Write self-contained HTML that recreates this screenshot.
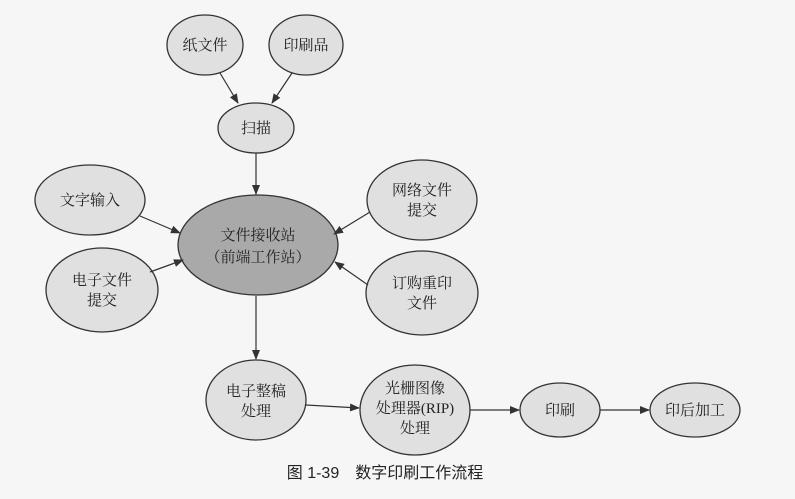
<!DOCTYPE html>
<html><head><meta charset="utf-8"><style>
html,body{margin:0;padding:0;background:#f7f6f6;}
svg text{font-family:"Liberation Serif","Noto Serif CJK SC",serif;font-size:15px;fill:#222;text-anchor:middle;}
</style></head><body>
<svg width="795" height="494" viewBox="0 0 795 494" xmlns="http://www.w3.org/2000/svg">
<defs><marker id="a" markerWidth="10" markerHeight="8" refX="9" refY="4" orient="auto" markerUnits="userSpaceOnUse"><path d="M0,0 L10,4 L0,8 z" fill="#333"/></marker></defs>
<g fill="#e0e0e0" stroke="#333" stroke-width="1.3">
<ellipse cx="205" cy="45" rx="38" ry="30"/>
<ellipse cx="306" cy="45" rx="37" ry="30"/>
<ellipse cx="256" cy="128" rx="38" ry="25"/>
<ellipse cx="90" cy="200" rx="55" ry="35"/>
<ellipse cx="102" cy="290" rx="56" ry="42"/>
<ellipse cx="258" cy="245" rx="80" ry="50" fill="#a9a9a9"/>
<ellipse cx="422" cy="200" rx="55" ry="40"/>
<ellipse cx="422" cy="293" rx="56" ry="42"/>
<ellipse cx="256" cy="400" rx="50" ry="40"/>
<ellipse cx="415" cy="410" rx="55" ry="45"/>
<ellipse cx="560" cy="410" rx="40" ry="27"/>
<ellipse cx="695" cy="410" rx="45" ry="27"/>
</g>
<g stroke="#333" stroke-width="1.2" marker-end="url(#a)">
<line x1="220" y1="73" x2="238" y2="103"/>
<line x1="292" y1="73" x2="272" y2="103"/>
<line x1="256" y1="153" x2="256" y2="194"/>
<line x1="140" y1="216" x2="180" y2="233"/>
<line x1="150" y1="272" x2="183" y2="260"/>
<line x1="370" y1="212" x2="334" y2="234"/>
<line x1="368" y1="285" x2="335" y2="262"/>
<line x1="256" y1="296" x2="256" y2="359"/>
<line x1="306" y1="405" x2="359" y2="408"/>
<line x1="470" y1="410" x2="519" y2="410"/>
<line x1="600" y1="410" x2="649" y2="410"/>
</g>
<text x="205" y="50">纸文件</text>
<text x="306" y="50">印刷品</text>
<text x="256" y="133">扫描</text>
<text x="90" y="205">文字输入</text>
<text x="102" y="285">电子文件</text><text x="102" y="305">提交</text>
<text x="258" y="240">文件接收站</text><text x="258" y="262">（前端工作站）</text>
<text x="422" y="195">网络文件</text><text x="422" y="215">提交</text>
<text x="422" y="288">订购重印</text><text x="422" y="308">文件</text>
<text x="256" y="396">电子整稿</text><text x="256" y="416">处理</text>
<text x="415" y="393">光栅图像</text><text x="415" y="413">处理器(RIP)</text><text x="415" y="433">处理</text>
<text x="560" y="415">印刷</text>
<text x="695" y="415">印后加工</text>
<text x="385" y="478" style="font-family:'Liberation Sans','Noto Sans CJK SC',sans-serif;font-size:16px">图 1-39　数字印刷工作流程</text>
</svg>
</body></html>
